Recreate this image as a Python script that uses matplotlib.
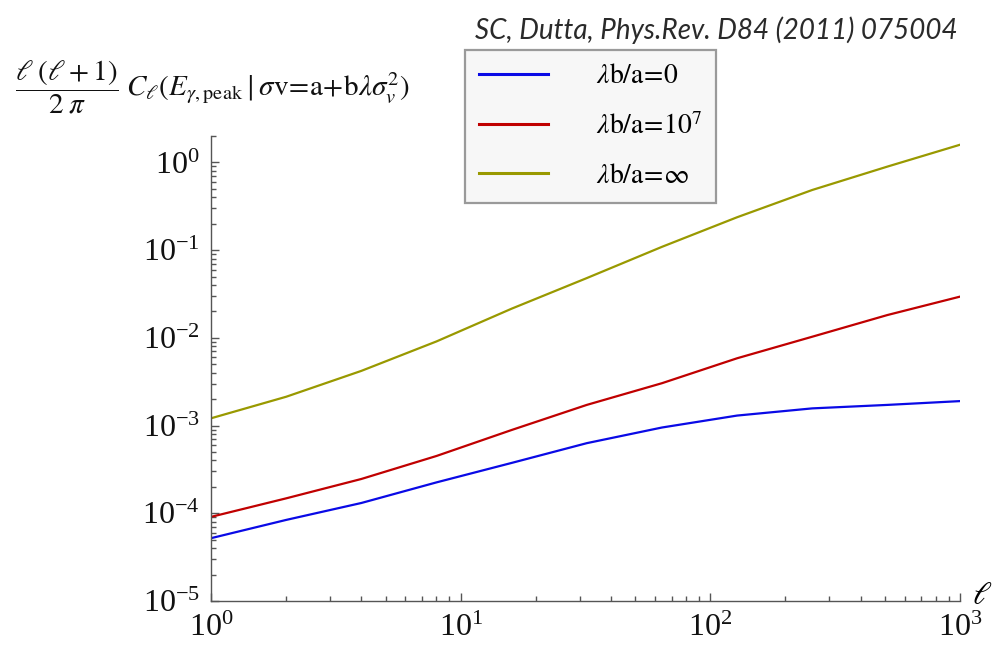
import numpy as np
import matplotlib
matplotlib.use('Agg')
import matplotlib.pyplot as plt

plt.rcParams['mathtext.fontset'] = 'stix'
plt.rcParams['font.family'] = ['Liberation Serif', 'DejaVu Serif']

# multipole moments and angular power for the three cross-section cases
ell = [1, 2, 4, 8, 16, 32, 64, 128, 256, 512, 1000]
cl_zero = [5.2e-5, 8.4e-5, 1.31e-4, 2.25e-4, 3.75e-4, 6.3e-4, 9.5e-4, 1.30e-3, 1.57e-3, 1.72e-3, 1.90e-3]
cl_1e7 = [9.1e-5, 1.48e-4, 2.46e-4, 4.5e-4, 8.9e-4, 1.72e-3, 3.04e-3, 5.85e-3, 1.03e-2, 1.82e-2, 2.95e-2]
cl_inf = [1.21e-3, 2.13e-3, 4.2e-3, 9.1e-3, 2.15e-2, 4.8e-2, 0.109, 0.237, 0.485, 0.896, 1.59]
labels = [r'$\lambda\mathrm{b/a}\!=\!0$',
          r'$\lambda\mathrm{b/a}\!=\!10^{7}$',
          r'$\lambda\mathrm{b/a}\!=\!\infty$']
colors = ['#0a0ae6', '#c00000', '#999900']

W, H = 992, 646
fig = plt.figure(figsize=(W / 100, H / 100), dpi=100)
ax = fig.add_axes([211 / W, 1 - 601 / H, 749 / W, 465 / H])

for y, lab, c in zip([cl_zero, cl_1e7, cl_inf], labels, colors):
    ax.plot(ell, y, color=c, lw=1.6, label=lab, solid_joinstyle='round')

ax.set_xscale('log')
ax.set_yscale('log')
ax.set_xlim(1, 1000)
ax.set_ylim(1e-5, 2.0)

for s in ['top', 'right']:
    ax.spines[s].set_visible(False)
for s in ['left', 'bottom']:
    ax.spines[s].set_color('#555555')
    ax.spines[s].set_linewidth(1.0)

ax.xaxis.set_major_locator(matplotlib.ticker.LogLocator(base=10, numticks=10))
ax.yaxis.set_major_locator(matplotlib.ticker.LogLocator(base=10, numticks=10))
ax.tick_params(which='both', direction='in', color='#555555', width=1.0, labelsize=23, labelcolor='#111111')
ax.tick_params(which='major', length=6)
ax.tick_params(which='minor', length=3.5)
ax.tick_params(axis='x', pad=9)
ax.tick_params(axis='y', pad=8)

ax.text(1.016, 0.01, r'$\ell$', transform=ax.transAxes, fontsize=23, ha='left', va='center')

fig.text(15 / W, 1 - 87 / H,
         r'$\dfrac{\ell\;(\ell+1)}{2\;\pi}\;C_\ell(E_{\gamma,\mathrm{peak}}\mid\sigma\mathrm{v}\!=\!\mathrm{a}\!+\!\mathrm{b}\lambda\sigma_v^2)$',
         fontsize=21, ha='left', va='center', color='#111111')

fig.text(958 / W, 1 - 30 / H, 'SC, Dutta, Phys.Rev. D84 (2011) 075004',
         family='Lato', style='italic', fontsize=20, color='#2a2a2a',
         ha='right', va='center')

leg = fig.legend(loc='upper left', bbox_to_anchor=(465 / W, 1 - 50 / H),
                 fontsize=20, handlelength=2.5, handletextpad=1.7,
                 labelspacing=0.85, borderpad=0.5, borderaxespad=0,
                 fancybox=False, framealpha=1, edgecolor='#9a9a9a',
                 facecolor='#f7f7f7')
leg.get_frame().set_linewidth(1.6)
for line in leg.get_lines():
    line.set_linewidth(2.2)

fig.savefig('out.png', dpi=100)
